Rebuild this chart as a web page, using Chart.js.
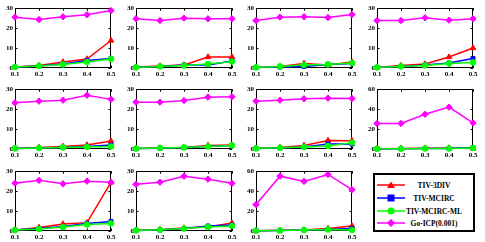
<!DOCTYPE html>
<html><head><meta charset="utf-8">
<script src="https://cdn.jsdelivr.net/npm/chart.js@4.4.1/dist/chart.umd.min.js"></script>
<style>
html,body{margin:0;padding:0;background:#fff;width:485px;height:242px;overflow:hidden;position:relative}
canvas.pc{position:absolute}
#legend{position:absolute;left:373px;top:173px;width:98px;height:55px;border:2px solid #000;background:#fff;font:bold 7.5px "Liberation Serif","Times New Roman",serif;color:#000}
.row{position:absolute;left:0;width:98px;height:12px}
.row svg{position:absolute;left:2px;top:0}
.row span{position:absolute;left:30px;width:58px;text-align:center;top:1px;white-space:nowrap;line-height:10px}
</style></head><body>
<div id="legend"></div>
<script>
const xLabels = ['0.1','0.2','0.3','0.4','0.5'];
const seriesNames = ['TIV-3DIV','TIV-MCIRC','TIV-MCIRC-ML','Go-ICP(0.001)'];
const yMax = [30,30,30,30,30,30,30,60,30,30,60];
const tiv3div = [
  [0.5,1.2,3.0,4.5,13.8],
  [0.5,1.0,1.5,5.5,5.5],
  [0.3,0.8,2.3,1.5,3.0],
  [0.3,1.2,2.0,5.5,10.0],
  [0.3,0.8,1.3,2.0,4.0],
  [0.2,0.5,0.8,1.8,2.0],
  [0.3,0.8,1.8,4.3,4.2],
  [0.3,0.5,0.7,1.0,0.5],
  [0.5,1.8,3.5,4.2,24.4],
  [0.3,0.8,1.5,2.0,4.0],
  [0.3,0.8,1.0,2.5,5.0]
];
const tivMcirc = [
  [0.5,1.0,2.0,3.8,4.8],
  [0.3,0.8,1.5,1.5,3.5],
  [0.3,0.5,0.8,1.8,2.3],
  [0.3,0.8,1.5,2.5,4.8],
  [0.3,0.5,0.8,1.2,2.0],
  [0.2,0.4,0.7,1.2,1.8],
  [0.3,0.5,1.0,2.5,2.5],
  [0.2,0.3,0.5,0.5,1.5],
  [0.5,1.2,2.2,3.8,4.8],
  [0.3,0.5,1.2,2.5,3.0],
  [0.3,0.5,1.0,1.5,2.5]
];
const tivMcircMl = [
  [0.5,1.0,1.8,3.0,4.5],
  [0.3,0.8,1.2,2.0,3.2],
  [0.3,0.8,1.5,1.8,2.5],
  [0.3,0.8,1.3,2.3,2.8],
  [0.3,0.5,0.8,1.0,1.2],
  [0.2,0.5,0.8,1.2,1.8],
  [0.3,0.6,1.0,1.5,3.2],
  [0.3,0.3,0.5,0.5,1.0],
  [0.5,1.0,2.0,3.2,3.8],
  [0.3,0.6,1.2,2.0,2.5],
  [0.3,0.5,1.0,1.5,1.0]
];
const goIcp = [
  [25.5,24.3,25.7,26.7,28.8],
  [24.7,23.8,25.0,24.7,24.7],
  [23.8,25.5,25.7,25.3,26.8],
  [23.8,23.8,25.2,24.0,24.7],
  [23.2,24.0,24.5,27.0,24.9],
  [23.5,23.5,24.3,26.0,26.2],
  [24.0,24.5,25.2,25.5,25.3],
  [25.6,25.6,34.8,42.0,26.2],
  [24.0,25.4,23.7,25.0,24.5],
  [23.4,24.5,27.5,26.0,23.9],
  [26.5,55.0,49.8,56.7,41.5]
];
const colors = ['#ff0000','#0000ff','#00ff00','#ff00ff'];
const markers = ['triangle','rect','circle','rectRot'];
const radii = [3.2,2.8,2.8,3.2];
const colLeft = [15,136,256,377];
const rowTop = [7,88,170];
const boxW = 96, boxH = 61, padL = 15, padT = 5, padR = 8, padB = 12;

const boxPlugin = {
  id:'box',
  beforeDatasetsDraw(chart){
    const {ctx, chartArea:a, scales} = chart;
    ctx.save();
    ctx.strokeStyle = '#000'; ctx.lineWidth = 1;
    ctx.strokeRect(Math.round(a.left)+0.5, Math.round(a.top)+0.5, Math.round(a.right-a.left)-1, Math.round(a.bottom-a.top)-1);
    ctx.beginPath();
    scales.x.ticks.forEach((t,i)=>{
      const x = Math.round(scales.x.getPixelForTick(i))+0.5;
      ctx.moveTo(x,a.bottom); ctx.lineTo(x,a.bottom-2.5);
      ctx.moveTo(x,a.top); ctx.lineTo(x,a.top+2.5);
    });
    scales.y.ticks.forEach((t,i)=>{
      const y = Math.round(scales.y.getPixelForTick(i))+0.5;
      ctx.moveTo(a.left,y); ctx.lineTo(a.left+2.5,y);
      ctx.moveTo(a.right,y); ctx.lineTo(a.right-2.5,y);
    });
    ctx.stroke();
    ctx.restore();
  }
};

const tickFont = {family:'"Liberation Serif", "Times New Roman", serif', size:7, weight:'bold'};
const allSeries = [tiv3div, tivMcirc, tivMcircMl, goIcp];

for (let p = 0; p < 11; p++) {
  const r = Math.floor(p/4), c = p % 4;
  const cv = document.createElement('canvas');
  cv.className = 'pc';
  cv.width = padL + boxW + padR; cv.height = padT + boxH + padB;
  cv.style.left = (colLeft[c]-padL)+'px';
  cv.style.top = (rowTop[r]-padT)+'px';
  cv.style.width = cv.width+'px'; cv.style.height = cv.height+'px';
  document.body.appendChild(cv);
  const datasets = allSeries.map((s,k)=>({
    label: seriesNames[k],
    data: s[p],
    borderColor: colors[k], backgroundColor: colors[k],
    borderWidth: 1.5,
    pointStyle: markers[k], pointRadius: radii[k], pointBorderWidth: 1,
    pointBackgroundColor: colors[k], pointBorderColor: colors[k],
    tension: 0, clip: false,
    order: 3-k
  }));
  new Chart(cv, {
    type:'line',
    data:{labels:xLabels, datasets},
    plugins:[boxPlugin],
    options:{
      responsive:false, animation:false, devicePixelRatio:1,
      layout:{padding:{top:padT,right:padR,left:0,bottom:0}},
      plugins:{legend:{display:false}, tooltip:{enabled:false}},
      scales:{
        x:{type:'category', offset:false, grid:{display:false, drawTicks:false}, border:{display:false},
           ticks:{font:tickFont, color:'#000', padding:2, maxRotation:0, autoSkip:false},
           afterFit:s=>{s.height=padB;}},
        y:{min:0, max:yMax[p], grid:{display:false, drawTicks:false}, border:{display:false},
           ticks:{font:tickFont, color:'#000', padding:2, stepSize:yMax[p]/3},
           afterFit:s=>{s.width=padL;}}
      }
    }
  });
}

// legend
const leg = document.getElementById('legend');
const rowY = [5,18,31,43];
const svgMarker = [
  '<polygon points="14,1.5 18,8 10,8" fill="#ff0000"/>',
  '<rect x="10.5" y="1.5" width="7" height="7" fill="#0000ff"/>',
  '<circle cx="14" cy="5" r="3.5" fill="#00ff00"/>',
  '<polygon points="14,1 18,5 14,9 10,5" fill="#ff00ff"/>'
];
seriesNames.forEach((n,k)=>{
  const d = document.createElement('div');
  d.className='row'; d.style.top = rowY[k]+'px';
  d.innerHTML = '<svg width="28" height="10"><line x1="0" y1="5" x2="28" y2="5" stroke="'+colors[k]+'" stroke-width="1.5"/>'+svgMarker[k]+'</svg><span>'+n+'</span>';
  leg.appendChild(d);
});
</script>
</body></html>
